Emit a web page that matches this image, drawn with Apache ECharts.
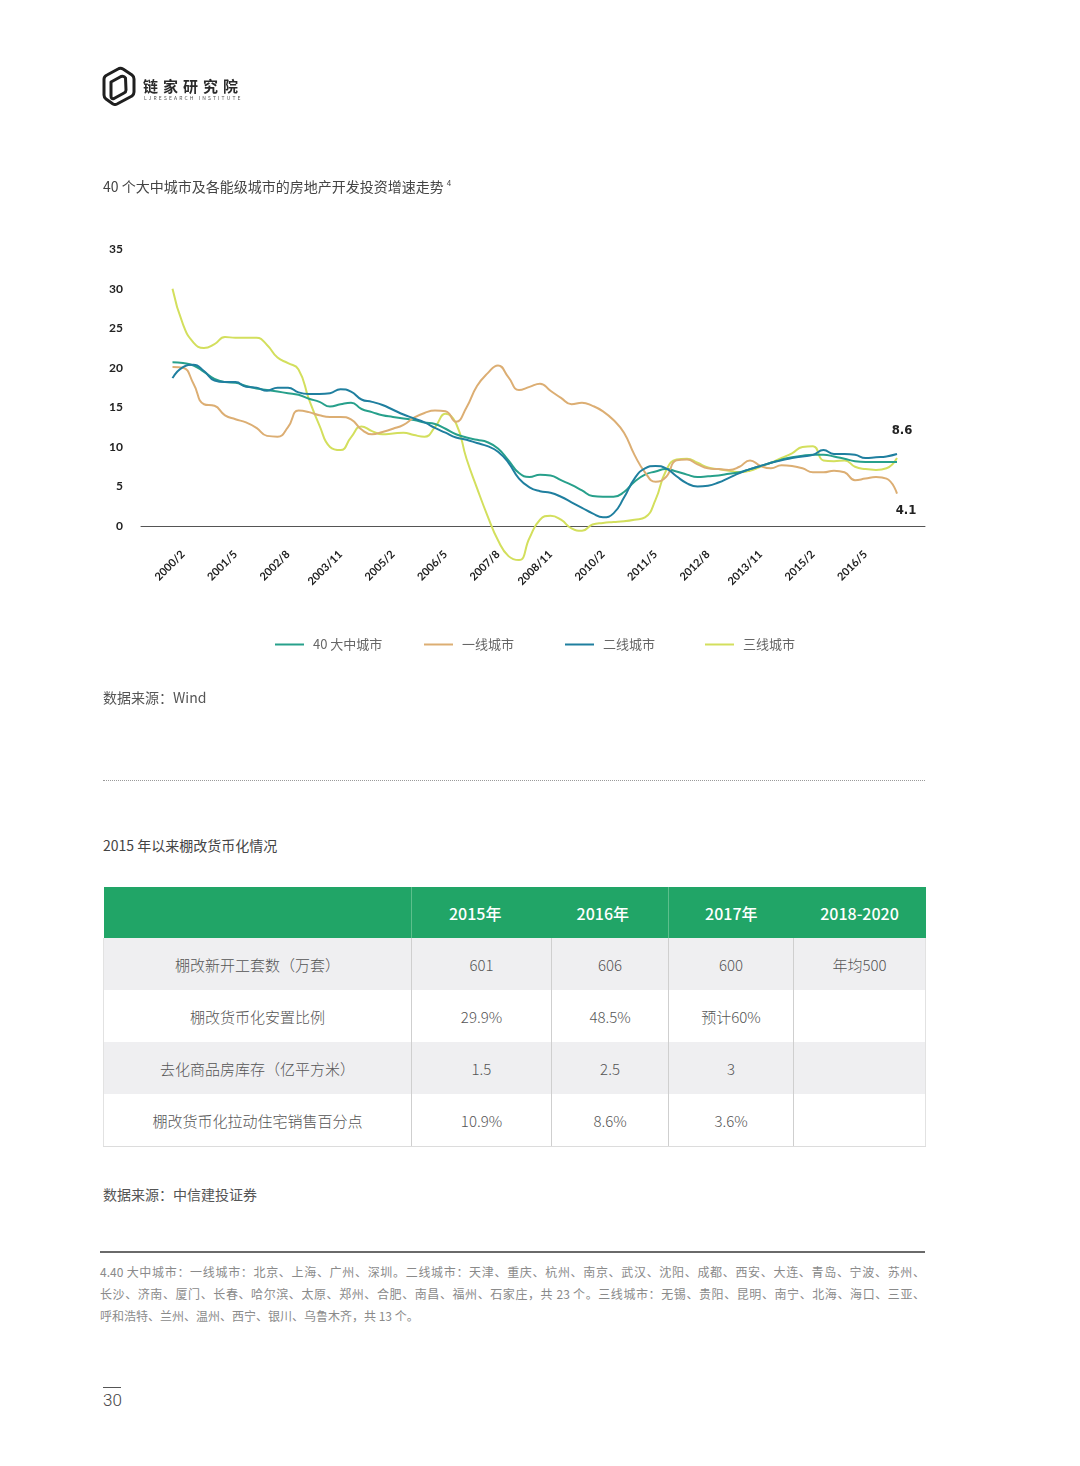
<!DOCTYPE html>
<html><head><meta charset="utf-8">
<script src="https://cdn.jsdelivr.net/npm/echarts@6/dist/echarts.min.js"></script>
<style>
html,body{margin:0;padding:0;background:#fff;}
#page{position:relative;width:1080px;height:1466px;overflow:hidden;font-family:"Noto Sans CJK SC","Noto Sans",sans-serif;color:#555;}
.t{position:absolute;white-space:nowrap;}
#chart{position:absolute;left:0;top:0;width:1080px;height:700px;}
table{border-collapse:collapse;table-layout:fixed;}
#tbl{position:absolute;left:103px;top:887px;width:822px;}
#tbl td{text-align:center;font-size:15px;color:#555;font-weight:300;padding:0;}
#tbl tr.h td{background:#21a567;color:#fff;font-weight:500;font-size:16px;height:51px;font-family:"Noto Sans CJK SC","Roboto",sans-serif;}
#tbl tr.g td{background:#efeff1;}
#tbl tr.b td{height:52px;border-left:1px solid #cfcfcf;}
#tbl tr.b td:first-child{border-left:1px solid #e2e2e2;}
#tbl tr.b td:last-child{border-right:1px solid #e2e2e2;}
#tbl tr.b:last-child td{border-bottom:1px solid #dcdcdc;}
.fn{position:absolute;left:100px;width:825px;font-size:12px;line-height:22px;color:#8a8a8a;text-align:justify;text-align-last:justify;white-space:nowrap;}
</style></head>
<body><div id="page">
<div id="chart"></div>
<svg class="t" style="left:101px;top:66px" width="36" height="40" viewBox="0 0 36 40">
<path d="M6 9 L18 2.5 Q20 1.8 22 3 L31 9 Q33 10.5 33 13 L33 26 Q33 28.5 31 30 L16 38 Q14 39 12 38 L5 33 Q3 31.5 3 29 L3 13 Q3 10.5 6 9 Z" fill="none" stroke="#1f1f1f" stroke-width="3" stroke-linejoin="round"/>
<path d="M10 16 L20 10.5 Q23 9.5 24.5 12 L25 24 Q25 26 23 27 L13 32.5 Q10 33.5 10 30 Z" fill="none" stroke="#1f1f1f" stroke-width="3" stroke-linejoin="round"/>
</svg>
<div class="t" style="left:143px;top:75px;font-size:15px;line-height:22px;letter-spacing:5px;color:#2a2a2a;font-weight:700;">链家研究院</div>
<div class="t" style="left:144px;top:95px;font-size:5px;line-height:6px;letter-spacing:2.1px;color:#555;">LJRESEARCH INSTITUTE</div>
<div class="t" style="left:103px;top:173px;font-size:14px;line-height:20px;color:#444;">40 个大中城市及各能级城市的房地产开发投资增速走势<sup style="font-size:8px;vertical-align:6px;margin-left:3px;">4</sup></div>
<div class="t" style="left:103px;top:687px;font-size:14px;line-height:20px;color:#555;">数据来源：Wind</div>
<div class="t" style="left:103px;top:780px;width:822px;height:0;border-top:1px dotted #9a9a9a;"></div>
<div class="t" style="left:103px;top:835px;font-size:14px;line-height:20px;color:#444;">2015 年以来棚改货币化情况</div>
<table id="tbl">
<colgroup><col style="width:308px"><col style="width:129px"><col style="width:11px"><col style="width:117px"><col style="width:125px"><col style="width:132px"></colgroup>
<tr class="h"><td style="border-right:1px solid #5cbf8c;"></td><td colspan="2" style="text-align:left;padding-left:37px;">2015年</td><td style="border-right:1px solid #5cbf8c;text-align:left;padding-left:25px;">2016年</td><td>2017年</td><td>2018-2020</td></tr>
<tr class="b g"><td>棚改新开工套数（万套）</td><td colspan="2">601</td><td>606</td><td>600</td><td>年均500</td></tr>
<tr class="b"><td>棚改货币化安置比例</td><td colspan="2">29.9%</td><td>48.5%</td><td>预计60%</td><td></td></tr>
<tr class="b g" style="height:51px"><td>去化商品房库存（亿平方米）</td><td colspan="2">1.5</td><td>2.5</td><td>3</td><td></td></tr>
<tr class="b"><td>棚改货币化拉动住宅销售百分点</td><td colspan="2">10.9%</td><td>8.6%</td><td>3.6%</td><td></td></tr>
</table>
<div class="t" style="left:103px;top:1184px;font-size:14px;line-height:20px;color:#555;">数据来源：中信建投证券</div>
<div class="t" style="left:100px;top:1251px;width:825px;height:0;border-top:2px solid #6a6a6a;"></div>
<div class="fn" style="top:1261px;">4.40 大中城市：一线城市：北京、上海、广州、深圳。二线城市：天津、重庆、杭州、南京、武汉、沈阳、成都、西安、大连、青岛、宁波、苏州、</div>
<div class="fn" style="top:1283px;">长沙、济南、厦门、长春、哈尔滨、太原、郑州、合肥、南昌、福州、石家庄，共 23 个。三线城市：无锡、贵阳、昆明、南宁、北海、海口、三亚、</div>
<div class="fn" style="top:1305px;text-align-last:left;">呼和浩特、兰州、温州、西宁、银川、乌鲁木齐，共 13 个。</div>
<div class="t" style="left:103px;top:1387px;width:18px;height:0;border-top:1px solid #555;"></div>
<div class="t" style="left:103px;top:1389px;font-size:17px;line-height:22px;color:#444;font-family:'Roboto','Noto Sans',sans-serif;font-weight:300;">30</div>
</div>
<script>
const periods = ['1999/11','2000/2','2000/5','2000/8','2000/11','2001/2','2001/5','2001/8','2001/11','2002/2','2002/5','2002/8','2002/11','2003/2','2003/5','2003/8','2003/11','2004/2','2004/5','2004/8','2004/11','2005/2','2005/5','2005/8','2005/11','2006/2','2006/5','2006/8','2006/11','2007/2','2007/5','2007/8','2007/11','2008/2','2008/5','2008/8','2008/11','2009/2','2009/5','2009/8','2009/11','2010/2','2010/5','2010/8','2010/11','2011/2','2011/5','2011/8','2011/11','2012/2','2012/5','2012/8','2012/11','2013/2','2013/5','2013/8','2013/11','2014/2','2014/5','2014/8','2014/11','2015/2','2015/5','2015/8','2015/11','2016/2','2016/5','2016/8','2016/11','2017/2'];
const tickLabels = ['2000/2','2001/5','2002/8','2003/11','2005/2','2006/5','2007/8','2008/11','2010/2','2011/5','2012/8','2013/11','2015/2','2016/5'];
const yTicks = [0,5,10,15,20,25,30,35];
const seriesNames = ['40 大中城市','一线城市','二线城市','三线城市'];
const city40 = [20.7,20.6,20.3,19.5,18.6,18.2,18.1,17.7,17.4,17.2,
 17.0,16.8,16.6,16.1,15.7,15.1,15.4,15.6,14.8,14.4,
 14.0,13.8,13.6,13.4,13.1,12.9,12.3,11.6,11.2,10.9,
 10.6,9.8,8.3,6.7,6.2,6.5,6.4,5.8,5.2,4.5,
 3.8,3.7,3.7,4.3,5.6,6.5,6.9,7.2,6.9,6.5,
 6.2,6.3,6.4,6.6,6.8,7.2,7.6,8.0,8.4,8.7,
 8.9,9.0,9.0,8.8,8.5,8.2,8.1,8.1,8.1,8.1];
const tier1 = [20.1,20.0,18.0,15.4,15.2,14.0,13.5,13.1,12.4,11.4,
 11.3,12.5,14.6,14.4,14.0,13.8,13.8,13.5,12.2,11.6,
 11.9,12.3,12.8,13.7,14.3,14.6,14.5,13.2,15.0,17.7,
 19.3,20.3,18.8,17.2,17.6,18.0,17.1,16.2,15.4,15.6,
 15.2,14.5,13.4,11.8,9.0,6.8,5.6,6.2,8.3,8.4,
 7.8,7.3,7.2,7.1,7.5,8.3,7.6,7.3,7.7,7.6,
 7.3,6.8,6.8,7.0,6.8,5.8,6.0,6.2,6.0,4.1];
const tier2 = [18.7,20.1,20.4,19.6,18.4,18.2,18.2,17.6,17.5,17.1,
 17.5,17.5,16.9,16.7,16.7,16.8,17.3,17.0,16.0,15.7,
 15.3,14.7,14.1,13.6,13.1,12.4,11.8,11.2,10.9,10.5,
 10.1,9.4,8.0,6.0,4.9,4.4,4.2,3.7,3.0,2.3,
 1.6,1.1,1.6,3.6,6.0,7.3,7.6,7.3,6.3,5.4,
 5.0,5.1,5.5,6.1,6.7,7.2,7.6,8.0,8.3,8.6,
 8.8,9.0,9.6,9.1,9.1,9.0,8.6,8.7,8.8,9.1];
const tier3 = [30.0,25.5,23.2,22.5,23.0,23.9,23.8,23.8,23.8,22.9,
 21.3,20.6,19.8,16.0,12.7,10.0,9.6,11.2,12.6,12.0,
 11.6,11.7,11.8,11.5,11.3,12.5,14.2,13.0,8.5,4.8,
 1.3,-1.8,-3.8,-4.3,-1.5,0.8,1.3,0.8,-0.3,-0.6,
 0.2,0.4,0.5,0.6,0.8,1.1,3.3,7.0,8.4,8.5,
 8.0,7.4,7.2,7.0,6.8,7.0,7.5,8.0,8.6,9.2,
 10.0,10.1,8.3,8.2,8.3,7.5,7.2,7.1,7.3,8.6];
const endLabels = ['8.6','4.1'];
const colors = ['#27a08b','#dcae73','#1f7f9f','#d3df5d'];

function toMonth(s){const p=s.split('/');return (+p[0]-2000)*12+(+p[1]-2);}
const tickMonths = tickLabels.map(toMonth);
function pairs(vals){return periods.map((p,i)=>[toMonth(p),vals[i]]);}
const allVals=[city40,tier1,tier2,tier3];
const lastM = toMonth(periods[periods.length-1]);

const chart = echarts.init(document.getElementById('chart'),null,{renderer:'canvas'});
const legendLeft=[275,424,565,705];
const series = seriesNames.map((n,i)=>({name:n,type:'line',data:pairs(allVals[i]),smooth:0.5,showSymbol:false,symbol:'none',
    lineStyle:{color:colors[i],width:2},itemStyle:{color:colors[i]},z:[2,3,4,1][i],animation:false}));
const endLabelStyle={show:true,color:'#222',fontSize:13,fontWeight:'bold',fontFamily:'DejaVu Sans Condensed',formatter:p=>p.value};
series[0].markPoint={symbol:'circle',symbolSize:0,silent:true,animation:false,
  data:[{coord:[lastM,city40[city40.length-1]],value:endLabels[0],label:{offset:[5,-31]}}],label:endLabelStyle};
series[1].markPoint={symbol:'circle',symbolSize:0,silent:true,animation:false,
  data:[{coord:[lastM,tier1[tier1.length-1]],value:endLabels[1],label:{offset:[9,17]}}],label:endLabelStyle};

chart.setOption({
  animation:false,
  grid:{left:141,top:249.2,width:784,height:316.4,containLabel:false},
  legend: seriesNames.map((n,i)=>({data:[{name:n,icon:'rect'}],left:legendLeft[i],top:638,padding:0,itemWidth:29,itemHeight:2,
     selectedMode:false,textStyle:{color:'#666',fontSize:13,fontFamily:'Noto Sans CJK SC',padding:[0,0,0,4]}})),
  xAxis:{type:'value',min:-12,max:212,
    axisLine:{show:true,onZero:true,lineStyle:{color:'#555',width:1}},
    axisTick:{show:false},splitLine:{show:false},
    axisLabel:{customValues:tickMonths,rotate:45,margin:-13,color:'#222',fontSize:11,fontWeight:'bold',fontFamily:'Lato',
      formatter:v=>{const i=tickMonths.indexOf(v);return i>=0?tickLabels[i]:'';}}},
  yAxis:{type:'value',min:-5,max:35,interval:5,
    axisLine:{show:false},axisTick:{show:false},splitLine:{show:false},
    axisLabel:{customValues:yTicks,margin:18,color:'#222',fontSize:12,fontWeight:'bold',fontFamily:'Lato',
      formatter:v=>v<0?'':String(v)}},
  series:series
});
</script>
</body></html>
